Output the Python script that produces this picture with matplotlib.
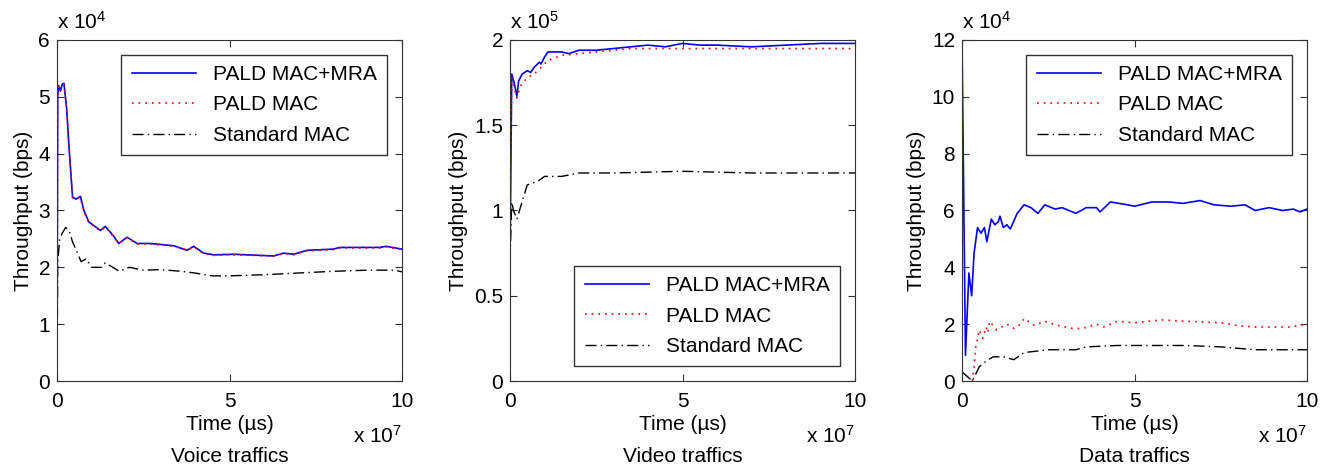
import numpy as np
import matplotlib.pyplot as plt
from matplotlib.ticker import FuncFormatter

plt.rcParams['font.family'] = ['Liberation Sans', 'DejaVu Sans']
plt.rcParams['mathtext.fontset'] = 'custom'
plt.rcParams['mathtext.rm'] = 'Liberation Sans'
plt.rcParams['mathtext.it'] = 'Liberation Sans'

# time in units of 1e7 us
# voice traffic, throughput in units of 1e4 bps
voice_mra_x = [0, 0.02, 0.05, 0.1, 0.15, 0.2, 0.28, 0.35, 0.45, 0.55, 0.68, 0.78, 0.92, 1.1, 1.26, 1.4, 1.64,
               1.79, 2.03, 2.32, 2.7, 3.38, 3.77, 3.96, 4.25, 4.54, 5.12, 6.28, 6.57, 6.86, 7.25, 8.0, 8.2,
               9.35, 9.54, 10]
voice_mra_y = [0, 5.0, 5.2, 5.1, 5.22, 5.24, 4.8, 4.1, 3.24, 3.2, 3.25, 3.0, 2.8, 2.72, 2.65, 2.72, 2.55,
               2.42, 2.53, 2.42, 2.42, 2.38, 2.3, 2.37, 2.25, 2.22, 2.23, 2.2, 2.25, 2.23, 2.3, 2.32, 2.35,
               2.35, 2.37, 2.32]
voice_pald_x = voice_mra_x
voice_pald_y = [0, 4.95, 5.18, 5.1, 5.2, 5.22, 4.78, 4.08, 3.22, 3.2, 3.23, 2.98, 2.8, 2.71, 2.64, 2.71, 2.54,
                2.42, 2.52, 2.41, 2.41, 2.37, 2.3, 2.36, 2.24, 2.21, 2.22, 2.2, 2.24, 2.22, 2.29, 2.31, 2.34,
                2.34, 2.36, 2.31]
voice_std_x = [0, 0.02, 0.08, 0.15, 0.25, 0.35, 0.45, 0.7, 0.85, 1.0, 1.3, 1.4, 1.7, 1.8, 2.1, 2.5, 3.0,
               3.6, 4.0, 4.5, 5.0, 6.0, 7.0, 8.0, 9.0, 9.8, 10]
voice_std_y = [0, 2.1, 2.5, 2.6, 2.7, 2.65, 2.45, 2.1, 2.15, 2.0, 2.0, 2.08, 1.97, 1.93, 2.0, 1.95, 1.96,
               1.93, 1.9, 1.85, 1.85, 1.87, 1.9, 1.93, 1.95, 1.95, 1.92]

# video traffic, throughput in units of 1e5 bps
video_mra_x = [0, 0.05, 0.12, 0.2, 0.25, 0.35, 0.5, 0.6, 0.7, 0.85, 0.9, 1.0, 1.1, 1.3, 1.5, 1.7, 2.0, 2.5,
               3.0, 3.5, 4.0, 4.5, 5.0, 5.5, 6.0, 7.0, 8.0, 9.0, 10]
video_mra_y = [0.7, 1.8, 1.75, 1.67, 1.76, 1.8, 1.82, 1.81, 1.84, 1.87, 1.86, 1.9, 1.93, 1.93, 1.93, 1.92,
               1.94, 1.94, 1.95, 1.96, 1.97, 1.96, 1.98, 1.97, 1.97, 1.96, 1.97, 1.98, 1.98]
video_pald_x = [0, 0.05, 0.12, 0.2, 0.3, 0.5, 0.7, 0.9, 1.1, 1.5, 2.0, 2.5, 3.5, 5.0, 6.0, 8.0, 10]
video_pald_y = [1.0, 1.78, 1.72, 1.66, 1.73, 1.78, 1.8, 1.84, 1.88, 1.91, 1.92, 1.93, 1.95, 1.95, 1.95,
                1.95, 1.95]
video_std_x = [0, 0.05, 0.1, 0.2, 0.35, 0.5, 0.8, 1.0, 1.5, 2.0, 3.0, 5.0, 7.0, 10]
video_std_y = [0.7, 1.05, 1.0, 0.95, 1.05, 1.15, 1.17, 1.2, 1.2, 1.22, 1.22, 1.23, 1.22, 1.22]

# data traffic, throughput in units of 1e4 bps
data_mra_x = [0, 0.1, 0.2, 0.28, 0.35, 0.45, 0.55, 0.65, 0.72, 0.85, 0.95, 1.05, 1.1, 1.2, 1.3, 1.4, 1.6,
              1.8, 2.0, 2.2, 2.4, 2.7, 2.9, 3.3, 3.6, 3.9, 4.0, 4.3, 4.8, 5.0, 5.5, 6.0, 6.4, 6.9, 7.3,
              7.8, 8.2, 8.5, 8.9, 9.3, 9.6, 9.8, 10]
data_mra_y = [12, 0.9, 3.8, 3.0, 4.5, 5.4, 5.2, 5.4, 4.9, 5.7, 5.5, 5.6, 5.8, 5.4, 5.5, 5.35, 5.9,
              6.2, 6.1, 5.9, 6.2, 6.05, 6.1, 5.9, 6.1, 6.1, 5.95, 6.3, 6.2, 6.15, 6.3, 6.3, 6.25, 6.35, 6.2,
              6.15, 6.2, 6.0, 6.1, 6.0, 6.05, 5.95, 6.05]
data_pald_x = [0.3, 0.35, 0.4, 0.5, 0.6, 0.7, 0.75, 0.8, 1.0, 1.3, 1.5, 1.7, 1.8, 2.1, 2.4, 2.8, 3.2, 3.5,
               3.9, 4.1, 4.5, 5.0, 5.8, 6.5, 7.5, 8.0, 8.5, 9.5, 10]
data_pald_y = [0, 0.5, 1.2, 1.8, 1.5, 1.9, 1.7, 2.1, 1.8, 2.0, 1.85, 2.0, 2.2, 1.95, 2.1, 1.95, 1.85, 1.85,
               2.0, 1.9, 2.1, 2.05, 2.15, 2.1, 2.05, 1.95, 1.9, 1.9, 2.0]
data_std_x = [0, 0.02, 0.3, 0.5, 0.7, 0.9, 1.2, 1.5, 1.8, 2.5, 3.3, 3.6, 4.5, 5.5, 6.5, 7.5, 8.5, 10]
data_std_y = [0.3, 0.3, 0.0, 0.5, 0.7, 0.85, 0.85, 0.75, 1.0, 1.1, 1.1, 1.2, 1.25, 1.25, 1.25, 1.2, 1.1, 1.1]

labels = ['PALD MAC+MRA', 'PALD MAC', 'Standard MAC']
titles = ['Voice traffics', 'Video traffics', 'Data traffics']

panels = [
    (voice_mra_x, voice_mra_y, voice_pald_x, voice_pald_y, voice_std_x, voice_std_y),
    (video_mra_x, video_mra_y, video_pald_x, video_pald_y, video_std_x, video_std_y),
    (data_mra_x, data_mra_y, data_pald_x, data_pald_y, data_std_x, data_std_y),
]
ylims = [(0, 6), (0, 2), (0, 12)]
yticks = [[0, 1, 2, 3, 4, 5, 6], [0, 0.5, 1, 1.5, 2], [0, 2, 4, 6, 8, 10, 12]]
yexp = [4, 5, 4]
legend_loc = ['upper right', 'lower right', 'upper right']

fs = 15
fig = plt.figure(figsize=(13.31, 4.69), dpi=100)
lefts = [57 / 1331, 510 / 1331, 962 / 1331]

for i in range(3):
    ax = fig.add_axes([lefts[i], 88 / 469, 345 / 1331, 341 / 469])
    mx, my, px, py, sx, sy = panels[i]
    ax.plot(mx, my, color='#0000ff', lw=1.2, label=labels[0])
    ax.plot(px, py, color='#ff0000', lw=1.2, ls=(0, (1, 3)), label=labels[1])
    ax.plot(sx, sy, color='black', lw=1.0, ls=(0, (8, 3, 1, 3)), label=labels[2])
    ax.set_xlim(0, 10)
    ax.set_ylim(*ylims[i])
    ax.set_xticks([0, 5, 10])
    ax.set_yticks(yticks[i])
    ax.yaxis.set_major_formatter(FuncFormatter(lambda v, p: '%g' % v))
    ax.tick_params(direction='in', top=True, right=True, labelsize=fs, length=5, color='#333333')
    ax.tick_params(axis='x', pad=8)
    ax.tick_params(axis='y', pad=5)
    for sp in ax.spines.values():
        sp.set_color('#333333')
    ax.set_ylabel('Throughput (bps)', fontsize=fs, labelpad=4)
    ax.set_xlabel('Time (µs)', fontsize=fs, labelpad=3)
    ax.text(0.0, 1.02, r'x $10^{%d}$' % yexp[i], transform=ax.transAxes, fontsize=fs,
            ha='left', va='bottom')
    ax.text(1.0, -0.13, r'x $10^{7}$', transform=ax.transAxes, fontsize=fs,
            ha='right', va='top')
    ax.text(0.5, -0.195, titles[i], transform=ax.transAxes, fontsize=fs,
            ha='center', va='top')
    leg = ax.legend(loc=legend_loc[i], fontsize=fs, handlelength=3.1, fancybox=False,
                    framealpha=1, edgecolor='#333333', borderaxespad=0.7,
                    labelspacing=0.55, borderpad=0.5)
    leg.get_frame().set_linewidth(1.0)

fig.savefig('out.png', dpi=100)
